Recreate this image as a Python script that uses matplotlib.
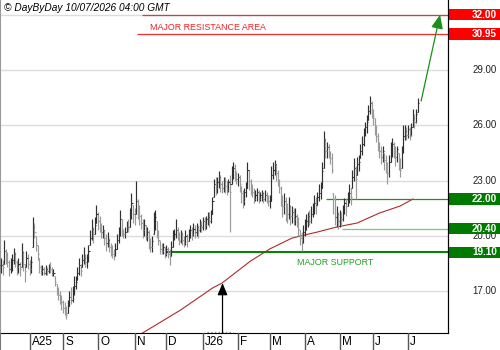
import numpy as np
import pandas as pd
import matplotlib
matplotlib.use("Agg")
import matplotlib.pyplot as plt

plt.rcParams['font.family'] = ['Liberation Sans', 'DejaVu Sans']

# ---------------- data ----------------
start_date = "2025-07-08"

close = [18.4, 18.3, 19.2, 18.9, 18.6, 18.2, 18.4, 18.7, 19.0, 18.6,
         18.3, 18.5, 18.2, 19.1, 18.5, 18.1, 18.8, 18.5, 18.2, 18.6,
         20.5, 20.2, 19.6, 19.0, 18.3, 18.1, 18.2, 18.0, 18.2, 18.1,
         18.3, 18.2, 18.0, 18.0, 17.5, 17.0, 16.8, 16.6, 16.4, 16.1,
         15.9, 15.7, 16.2, 16.7, 16.5, 17.0, 17.3, 17.5, 18.0, 18.4,
         18.1, 18.7, 18.8, 18.6, 18.7, 19.2, 19.9, 20.4, 20.1, 20.6,
         21.2, 20.8, 20.6, 20.2, 20.3, 19.9, 19.6, 19.8, 19.4, 19.2,
         19.0, 18.9, 19.3, 19.8, 20.1, 20.9, 20.3, 20.1, 20.2, 20.5,
         20.4, 21.0, 21.8, 21.2, 21.0, 21.9, 21.5, 21.1, 20.7, 20.3,
         20.6, 20.0, 20.2, 19.6, 19.4, 19.7, 20.8, 21.0, 20.2, 19.8,
         19.3, 19.2, 19.4, 19.0, 19.3, 19.0, 18.9, 19.4, 19.9, 20.1,
         20.3, 20.0, 19.7, 20.1, 19.8, 19.6, 20.0, 19.7, 20.1, 20.3,
         20.1, 20.4, 20.2, 20.5, 20.3, 20.6, 20.5, 20.8, 20.6, 20.9,
         21.0, 20.8, 21.2, 21.9, 22.8, 22.6, 22.9, 23.2, 22.8, 22.6,
         23.0, 22.7, 22.5, 22.9, 22.4, 23.5, 23.7, 23.4, 23.1, 23.2,
         22.8, 22.3, 21.9, 22.4, 22.6, 23.6, 23.0, 22.6, 22.4, 22.0,
         22.2, 22.4, 22.0, 22.2, 22.3, 22.0, 22.2, 22.1, 21.9, 21.9,
         23.3, 23.6, 23.9, 23.4, 23.0, 22.6, 22.0, 21.6, 21.9, 21.4,
         21.2, 21.6, 21.1, 21.3, 20.9, 21.1, 20.7, 20.4, 19.9, 19.6,
         20.2, 20.5, 20.8, 21.1, 20.8, 21.2, 21.5, 21.8, 21.6, 22.1,
         22.3, 22.6, 23.5, 25.2, 24.6, 24.8, 24.5, 24.2, 23.6, 22.0,
         21.0, 21.2, 20.8, 21.0, 20.9, 21.4, 21.8, 21.6, 22.1, 22.3,
         22.1, 23.2, 23.7, 23.1, 23.9, 24.0, 24.6, 25.0, 25.5, 25.9,
         26.2, 26.8, 27.2, 26.8, 26.5, 25.9, 25.4, 25.0, 24.6, 24.3,
         24.6, 24.1, 23.8, 23.4, 24.0, 24.6, 25.0, 24.6, 24.3, 24.7,
         24.0, 23.6, 24.6, 25.4, 25.7, 25.5, 25.8, 25.5, 25.9, 26.4,
         26.2, 26.6, 27.2]

high = [18.8, 18.7, 19.8, 19.3, 19.1, 18.7, 18.8, 19.0, 19.35, 19.1,
        18.7, 18.8, 18.6, 19.6, 19.2, 18.5, 19.2, 19.0, 18.7, 18.9,
        21.0, 20.7, 20.0, 19.5, 18.8, 18.4, 18.4, 18.3, 18.4, 18.3,
        18.5, 18.6, 18.3, 18.2, 17.8, 17.4, 17.2, 17.0, 16.8, 16.5,
        16.4, 16.2, 16.5, 17.0, 17.2, 17.3, 17.8, 17.8, 18.3, 18.8,
        18.5, 19.0, 19.4, 19.0, 19.0, 19.5, 20.3, 20.9, 20.5, 21.0,
        21.7, 21.3, 21.1, 20.7, 20.6, 20.3, 20.1, 20.2, 19.9, 19.6,
        19.5, 19.3, 19.6, 20.1, 20.5, 21.4, 20.9, 20.4, 20.5, 20.8,
        20.9, 21.5, 22.3, 21.7, 21.5, 23.0, 22.0, 21.7, 21.2, 20.9,
        20.9, 20.6, 20.5, 20.3, 19.9, 20.0, 21.3, 21.4, 20.8, 20.3,
        19.7, 19.6, 19.6, 19.4, 19.5, 19.4, 19.3, 19.7, 20.3, 20.4,
        20.9, 20.5, 20.2, 20.3, 20.2, 20.0, 20.3, 20.1, 20.4, 20.6,
        20.5, 20.7, 20.6, 20.7, 20.6, 20.9, 20.8, 21.0, 21.0, 21.1,
        21.3, 21.3, 21.4, 22.1, 23.1, 23.2, 23.2, 23.5, 23.3, 23.0,
        23.2, 23.2, 23.0, 23.1, 23.3, 23.8, 24.0, 23.9, 23.5, 23.4,
        23.3, 22.7, 22.5, 22.6, 22.9, 24.0, 23.6, 23.1, 22.8, 22.6,
        22.5, 22.6, 22.5, 22.4, 22.5, 22.4, 22.5, 22.4, 22.2, 22.2,
        23.8, 24.0, 24.1, 23.9, 23.6, 23.1, 22.7, 22.2, 22.3, 22.1,
        21.8, 22.1, 21.7, 21.6, 21.5, 21.5, 21.2, 21.0, 20.3, 20.2,
        20.6, 20.9, 21.2, 21.3, 21.4, 21.6, 21.8, 22.2, 22.1, 22.4,
        22.8, 22.9, 24.0, 25.7, 25.3, 25.1, 25.0, 24.6, 24.5, 22.3,
        22.2, 21.6, 21.3, 21.4, 21.3, 21.7, 22.05, 22.0, 22.4, 22.8,
        22.6, 23.6, 24.2, 23.8, 24.3, 24.4, 25.0, 25.4, 25.85, 26.2,
        26.55, 27.1, 27.6, 27.3, 26.9, 26.4, 26.0, 25.6, 25.1, 24.9,
        24.9, 24.5, 24.4, 24.0, 24.4, 25.1, 25.3, 25.1, 24.9, 24.9,
        24.5, 24.2, 24.9, 26.0, 26.0, 25.9, 26.0, 25.9, 26.1, 26.9,
        26.6, 26.9, 27.5]

low = [18.0, 17.9, 18.5, 18.5, 18.3, 17.8, 18.0, 18.1, 18.5, 18.3,
       17.9, 18.0, 17.8, 18.3, 18.1, 17.5, 18.3, 18.2, 17.9, 18.0,
       19.4, 19.9, 19.2, 18.7, 18.0, 17.9, 17.9, 17.9, 17.9, 17.9,
       18.0, 18.0, 17.8, 17.8, 17.3, 16.8, 16.5, 16.3, 16.0, 15.8,
       15.7, 15.5, 15.8, 16.2, 16.3, 16.4, 16.8, 17.1, 17.6, 17.9,
       17.8, 18.3, 18.5, 18.3, 18.25, 18.6, 19.5, 19.8, 19.6, 20.1,
       20.7, 20.3, 20.2, 19.9, 19.9, 19.5, 19.2, 19.4, 19.1, 18.9,
       18.8, 18.7, 18.9, 19.3, 19.6, 20.0, 20.0, 19.9, 19.9, 20.2,
       20.2, 20.5, 20.9, 20.7, 20.6, 21.2, 20.9, 20.6, 20.4, 19.9,
       20.0, 19.8, 19.7, 19.3, 19.1, 19.1, 20.1, 20.3, 19.9, 19.5,
       19.0, 19.0, 19.0, 18.8, 18.9, 18.8, 18.4, 18.9, 19.4, 19.8,
       19.9, 19.8, 19.5, 19.6, 19.5, 19.4, 19.5, 19.4, 19.7, 19.9,
       19.8, 20.0, 19.9, 20.0, 19.9, 20.2, 20.2, 20.3, 20.3, 20.4,
       20.6, 20.5, 20.7, 21.2, 22.1, 22.2, 22.3, 22.6, 22.4, 22.3,
       22.4, 22.3, 22.2, 22.4, 20.2, 22.8, 23.1, 23.0, 22.8, 22.7,
       22.4, 21.8, 21.5, 21.7, 22.1, 22.6, 22.5, 22.2, 22.1, 21.8,
       21.9, 21.9, 21.8, 21.9, 21.9, 21.8, 21.9, 21.8, 21.6, 21.5,
       21.9, 23.1, 23.3, 23.0, 22.7, 22.3, 21.6, 21.0, 21.2, 20.8,
       20.7, 20.9, 20.6, 20.7, 20.6, 20.6, 20.5, 20.0, 19.5, 19.2,
       19.6, 20.0, 20.3, 20.5, 20.6, 20.7, 21.0, 21.2, 21.2, 21.7,
       21.9, 22.0, 22.6, 23.7, 24.2, 24.2, 24.2, 23.9, 23.4, 21.2,
       20.6, 20.5, 20.4, 20.5, 20.6, 20.8, 21.2, 21.1, 21.6, 21.8,
       21.7, 22.6, 23.0, 22.0, 23.3, 23.5, 24.2, 24.4, 24.9, 25.4,
       25.6, 26.3, 26.6, 26.4, 26.0, 25.5, 25.1, 24.6, 24.2, 23.9,
       24.0, 23.6, 23.4, 22.8, 23.2, 24.0, 24.3, 24.2, 23.8, 24.0,
       23.6, 23.2, 23.7, 24.5, 25.2, 25.2, 25.3, 25.2, 25.4, 25.9,
       25.85, 26.1, 26.7]

# moving average (sparse readings: bar index, value)
ma_bar = [89, 113, 133, 139, 157, 165, 169, 183, 191, 199, 211, 224, 238, 251, 259]
ma_val = [14.73, 15.98, 17.17, 17.44, 18.64, 19.07, 19.29, 19.88, 20.05, 20.21,
          20.48, 20.70, 21.24, 21.62, 22.00]

resistance_levels = [32.00, 30.95]
support_levels = [22.00, 20.40, 19.10]
y_ticks = [17, 20, 23, 26, 29]
month_labels = ["A25", "S", "O", "N", "D", "J26", "F", "M", "A", "M", "J", "J"]
header = "© DayByDay 10/07/2026 04:00 GMT"

# ---------------- figure ----------------
n = len(close)
dates = pd.bdate_range(start_date, periods=n)
x = np.arange(n)
c = np.array(close); h = np.array(high); l = np.array(low)
o = np.clip(np.concatenate([[c[0]], c[:-1]]), l, h)

fig = plt.figure(figsize=(5, 3.5), dpi=100)
ax = fig.add_axes([0, 17/350, 448/500, 333/350])
axr = fig.add_axes([448/500, 17/350, 52/500, 333/350])
axb = fig.add_axes([0, 0, 448/500, 17/350])

ylo, yhi = 14.73, 32.80
xlo, xhi = -0.63, 281.1
for a in (ax, axr):
    a.set_ylim(ylo, yhi)
ax.set_xlim(xlo, xhi)
axb.set_xlim(xlo, xhi)
axb.set_ylim(0, 1)
axr.set_xlim(0, 1)

for a in (ax, axr, axb):
    a.set_xticks([]); a.set_yticks([])
    a.patch.set_alpha(0)

ax.spines['top'].set_visible(False)
ax.spines['left'].set_color('#999999')
ax.spines['bottom'].set_color('black')
ax.spines['right'].set_color('black')
for s in ('top', 'bottom', 'right'):
    axr.spines[s].set_visible(False)
axr.spines['left'].set_color('black')
for s in ('top', 'bottom', 'right'):
    axb.spines[s].set_visible(False)
axb.spines['left'].set_color('#777777')

# grid
for v in y_ticks + [32]:
    ax.axhline(v, color='#dcdcdc', lw=1, zorder=0)

# OHLC bars
up = c >= o
cols = np.where(up, '#303030', '#9a9a9a')
ax.vlines(x, l, h, colors=cols, lw=0.85, zorder=3)
ax.hlines(o, x - 0.7, x, colors=cols, lw=0.75, zorder=3)
ax.hlines(c, x, x + 0.7, colors=cols, lw=0.75, zorder=3)

# moving average
ax.plot(ma_bar, ma_val, color='#b02a2a', lw=0.8, zorder=2)

# resistance lines
ax.hlines(resistance_levels[0], 88.7, xhi, color='#f03030', lw=0.9, zorder=2)
ax.hlines(resistance_levels[1], 85.5, xhi, color='#f03030', lw=0.9, zorder=2)
ax.text(93.7, 31.33, "MAJOR RESISTANCE AREA", color='#ee2222', fontsize=6.4,
        va='center', ha='left')

# support lines
ax.hlines(support_levels[0], 204.4, xhi, color='#2a8a2a', lw=0.9, zorder=2)
ax.hlines(support_levels[1], 214.5, xhi, color='#77cc77', lw=0.9, zorder=2)
ax.hlines(support_levels[2], 103.0, xhi, color='#0a820a', lw=1.5, zorder=2)
ax.text(186.0, 18.58, "MAJOR SUPPORT", color='#22a022', fontsize=6.4,
        va='center', ha='left')

# arrows
ax.annotate('', xy=(139.3, 17.44), xytext=(139.3, ylo), zorder=5,
            arrowprops=dict(arrowstyle='-|>,head_length=0.6,head_width=0.25',
                            color='black', lw=0.9, mutation_scale=12,
                            shrinkA=0, shrinkB=0))
ax.plot([129.6, 146.0], [14.80, 14.80], ls=':', color='#999999', lw=1)
ax.annotate('', xy=(276.1, 32.0), xytext=(264.2, 27.32), zorder=5,
            arrowprops=dict(arrowstyle='-|>,head_length=0.7,head_width=0.3',
                            color='#1a901a', lw=0.9, mutation_scale=12,
                            shrinkA=0, shrinkB=0))

# right labels
for v in y_ticks:
    axr.text(0.94, v, f"{v:.2f}", ha='right', va='center', fontsize=7,
             color='#222222', zorder=1)
for v in resistance_levels:
    axr.axhspan(v - 0.31, v + 0.31, color='#ff0000', zorder=2, lw=0)
    axr.text(0.94, v, f"{v:.2f}", ha='right', va='center', fontsize=7.2,
             color='white', fontweight='bold', zorder=3)
for v in support_levels:
    axr.axhspan(v - 0.31, v + 0.31, color='#007a00', zorder=2, lw=0)
    axr.text(0.94, v, f"{v:.2f}", ha='right', va='center', fontsize=7.2,
             color='white', fontweight='bold', zorder=3)

# month strip
months = pd.Series(dates.to_period('M'))
starts = [i for i in range(1, n) if months[i] != months[i - 1]]
for i, lab in zip(starts, month_labels):
    axb.axvline(i, color='#555555', lw=1)
    axb.text(i + 1.3, 0.45, lab, ha='left', va='center', fontsize=8.5,
             color='black')

fig.text(4/500, 1 - 8/350, header, style='italic', fontsize=7.3,
         va='center', ha='left', color='black')

fig.savefig('out.png', dpi=100)
